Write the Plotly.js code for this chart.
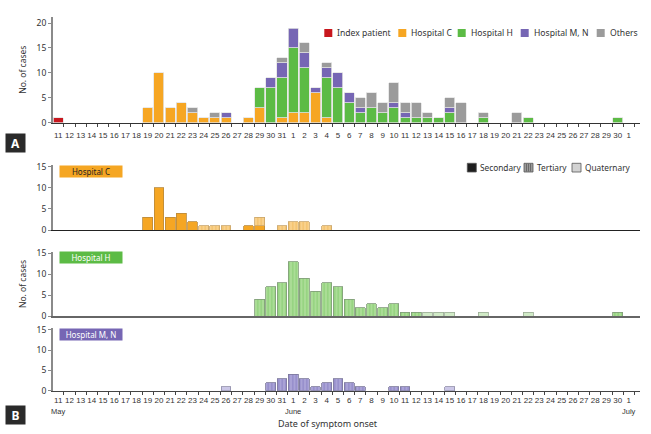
<!DOCTYPE html>
<html><head><meta charset="utf-8">
<script src="https://cdn.plot.ly/plotly-3.0.1.min.js"></script>
<style>html,body{margin:0;padding:0;background:#fff}#chart{width:651px;height:434px}</style>
</head><body><div id="chart"></div>
<script>
// ---- DATA ----
// day labels: May 11-31, June 1-30, July 1
const dayLabels = [
  '11','12','13','14','15','16','17','18','19','20',
  '21','22','23','24','25','26','27','28','29','30','31',
  '1','2','3','4','5','6','7','8','9','10',
  '11','12','13','14','15','16','17','18','19','20',
  '21','22','23','24','25','26','27','28','29','30',
  '1'];
const monthLabels = ['May','June','July'];
const monthStartIndex = [0, 21, 51];

// Panel A (stacked, all cases)
const topIndex = [
  1,0,0,0,0,0,0,0,0,0,  0,0,0,0,0,0,0,0,0,0,0,
  0,0,0,0,0,0,0,0,0,0,  0,0,0,0,0,0,0,0,0,0,  0,0,0,0,0,0,0,0,0,0,  0];
const topHospC = [
  0,0,0,0,0,0,0,0,3,10, 3,4,2,1,1,1,0,1,3,0,1,
  2,2,6,1,0,0,0,0,0,0,  0,0,0,0,0,0,0,0,0,0,  0,0,0,0,0,0,0,0,0,0,  0];
const topHospH = [
  0,0,0,0,0,0,0,0,0,0,  0,0,0,0,0,0,0,0,4,7,8,
  13,9,0,8,7,4,2,3,2,3, 1,1,1,1,2,0,0,1,0,0,  0,1,0,0,0,0,0,0,0,1,  0];
const topHospMN = [
  0,0,0,0,0,0,0,0,0,0,  0,0,0,0,0,1,0,0,0,2,3,
  4,3,1,2,3,2,1,0,0,1,  1,0,0,0,1,0,0,0,0,0,  0,0,0,0,0,0,0,0,0,0,  0];
const topOthers = [
  0,0,0,0,0,0,0,0,0,0,  0,0,1,0,1,0,0,0,0,0,1,
  0,2,0,1,0,0,2,3,2,4,  2,3,1,0,2,4,0,1,0,0,  2,0,0,0,0,0,0,0,0,0,  0];

// Panel B: Hospital C
const cSecondary = [
  0,0,0,0,0,0,0,0,3,10, 3,4,2,0,0,0,0,1,1,0,0,
  0,0,0,0,0,0,0,0,0,0,  0,0,0,0,0,0,0,0,0,0,  0,0,0,0,0,0,0,0,0,0,  0];
const cTertiary = [
  0,0,0,0,0,0,0,0,0,0,  0,0,0,1,1,1,0,0,2,0,1,
  2,2,0,1,0,0,0,0,0,0,  0,0,0,0,0,0,0,0,0,0,  0,0,0,0,0,0,0,0,0,0,  0];
// Panel B: Hospital H
const hTertiary = [
  0,0,0,0,0,0,0,0,0,0,  0,0,0,0,0,0,0,0,4,7,8,
  13,9,6,8,7,4,2,3,2,3, 1,1,0,0,0,0,0,0,0,0,  0,0,0,0,0,0,0,0,0,1,  0];
const hQuaternary = [
  0,0,0,0,0,0,0,0,0,0,  0,0,0,0,0,0,0,0,0,0,0,
  0,0,0,0,0,0,0,0,0,0,  0,0,1,1,1,0,0,1,0,0,  0,1,0,0,0,0,0,0,0,0,  0];
// Panel B: Hospital M, N
const mnTertiary = [
  0,0,0,0,0,0,0,0,0,0,  0,0,0,0,0,0,0,0,0,2,3,
  4,3,1,2,3,2,1,0,0,1,  1,0,0,0,0,0,0,0,0,0,  0,0,0,0,0,0,0,0,0,0,  0];
const mnQuaternary = [
  0,0,0,0,0,0,0,0,0,0,  0,0,0,0,0,1,0,0,0,0,0,
  0,0,0,0,0,0,0,0,0,0,  0,0,0,0,1,0,0,0,0,0,  0,0,0,0,0,0,0,0,0,0,  0];

const topLegendLabels = ['Index patient','Hospital C','Hospital H','Hospital M, N','Others'];
const genLegendLabels = ['Secondary','Tertiary','Quaternary'];
const panelLabels = ['Hospital C','Hospital H','Hospital M, N'];

// ---- STYLE / LAYOUT ----
const W = 651, H = 434;
const px = v => v / W, py = v => 1 - v / H;
const xs = dayLabels.map((_, i) => i);
const nz = a => a.map(v => v === 0 ? null : v);
const FONT = '"Liberation Sans", Arial, sans-serif';
const FONT2 = '"Noto Sans", Roboto, sans-serif';

const RED = '#C8171E', ORANGE = '#F6A623', GREEN = '#5CBB45', PURPLE = '#7666B4', GRAY = '#9B9B9B';

function bar(vals, xa, ya, color, lineColor, lineW, pattern, width) {
  const t = {type: 'bar', x: xs, y: nz(vals), xaxis: xa, yaxis: ya, width: width,
    marker: {color: color, line: {color: lineColor, width: lineW}},
    showlegend: false, hoverinfo: 'skip'};
  if (pattern) t.marker.pattern = pattern;
  return t;
}
const stripe = (bg, fg) => ({shape: '|', bgcolor: bg, fgcolor: fg, size: 3.5, solidity: 0.3});

const data = [
  bar(topIndex, 'x', 'y', RED, '#e4e4e4', 0.8, null, 0.9),
  bar(topHospC, 'x', 'y', ORANGE, '#e4e4e4', 0.8, null, 0.9),
  bar(topHospH, 'x', 'y', GREEN, '#e4e4e4', 0.8, null, 0.9),
  bar(topHospMN, 'x', 'y', PURPLE, '#e4e4e4', 0.8, null, 0.9),
  bar(topOthers, 'x', 'y', GRAY, '#e4e4e4', 0.8, null, 0.9),
  bar(cSecondary, 'x2', 'y2', '#F5A623', '#b98a3c', 0.8, null, 0.88),
  bar(cTertiary, 'x2', 'y2', '#F9CF85', '#c9a56a', 0.8, stripe('#F9D18C', '#F2BD62'), 0.88),
  bar(hTertiary, 'x3', 'y3', '#A8DC94', '#7f9a78', 0.8, stripe('#ABDD97', '#8ACF74'), 0.88),
  bar(hQuaternary, 'x3', 'y3', '#D0EAC6', '#9aab95', 0.8, null, 0.88),
  bar(mnTertiary, 'x4', 'y4', '#A7A0D5', '#7a779a', 0.8, stripe('#AAA3D7', '#8C84C5'), 0.88),
  bar(mnQuaternary, 'x4', 'y4', '#CBC7E7', '#8f8ca8', 0.8, null, 0.88)
];

const XDOM = [px(53), px(640)];
const XR = [-0.47, 52];
const tickFont = {family: FONT, size: 8, color: '#333'};
const yTickFont = {family: FONT2, size: 8.5, color: '#333'};
function xax(extra) {
  return Object.assign({domain: XDOM, range: XR, showgrid: false, zeroline: false,
    showline: true, ticks: '', fixedrange: true, tickangle: 0}, extra);
}
function yax(dom, rng, extra) {
  return Object.assign({domain: dom, range: rng, showgrid: false, zeroline: false,
    showline: true, linecolor: '#8a8a8a', linewidth: 2, ticks: 'outside', ticklen: 3,
    tickcolor: '#8a8a8a', tickwidth: 1, tickfont: yTickFont, tickmode: 'array', fixedrange: true}, extra);
}
const dayTicks = (so) => ({tickmode: 'array', tickvals: xs, ticktext: dayLabels, tickfont: tickFont, tickangle: 0,
  ticklabelstandoff: so,
  minor: {tickmode: 'linear', tick0: 0.5, dtick: 1, ticks: 'outside', ticklen: 3, tickcolor: '#444', tickwidth: 1, showgrid: false}});

const layout = {
  width: W, height: H, margin: {l: 0, r: 0, t: 0, b: 0},
  paper_bgcolor: '#fff', plot_bgcolor: 'rgba(0,0,0,0)',
  barmode: 'stack', showlegend: false, font: {family: FONT, color: '#333'},
  xaxis: xax(Object.assign({anchor: 'y', linecolor: '#333', linewidth: 1.3}, dayTicks(4))),
  xaxis2: xax({anchor: 'y2', matches: 'x', linecolor: '#222', linewidth: 1.4, showticklabels: false}),
  xaxis3: xax({anchor: 'y3', matches: 'x', linecolor: '#666', linewidth: 1.4, showticklabels: false}),
  xaxis4: xax(Object.assign({anchor: 'y4', matches: 'x', linecolor: '#444', linewidth: 1.3}, dayTicks(1))),
  yaxis: yax([py(122.7), py(16.7)], [0, 21.27], {anchor: 'x', tickvals: [0,5,10,15,20],
    title: {text: 'No. of cases', font: {family: FONT2, size: 8.5, color: '#333'}, standoff: 9}}),
  yaxis2: yax([py(230), py(165)], [0, 15.4], {anchor: 'x2', tickvals: [0,5,10,15]}),
  yaxis3: yax([py(316.3), py(251.6)], [0, 15.4], {anchor: 'x3', tickvals: [0,5,10,15],
    title: {text: 'No. of cases', font: {family: FONT2, size: 8.5, color: '#333'}, standoff: 9}}),
  yaxis4: yax([py(390.7), py(328.3)], [0, 15.4], {anchor: 'x4', tickvals: [0,5,10,15]}),
  shapes: [], annotations: []
};

// Top legend (custom)
const topLegColors = [RED, ORANGE, GREEN, PURPLE, GRAY];
const topLegX = [324.3, 398.3, 457.7, 520.7, 596.7];
topLegendLabels.forEach((lab, i) => {
  layout.shapes.push({type: 'rect', xref: 'paper', yref: 'paper', x0: px(topLegX[i]), x1: px(topLegX[i] + 8),
    y0: py(37), y1: py(29), fillcolor: topLegColors[i], line: {width: 0}});
  layout.annotations.push({xref: 'paper', yref: 'paper', x: px(topLegX[i] + 11), y: py(33), xanchor: 'left', yanchor: 'middle',
    text: lab, showarrow: false, font: {family: FONT2, size: 8.6, color: '#333'}});
});
// Generation legend (custom)
const genLegX = [467.3, 524, 572];
const genFill = ['#1e1e1e', '#9a9a9a', '#d2d2d2'];
genLegendLabels.forEach((lab, i) => {
  layout.shapes.push({type: 'rect', xref: 'paper', yref: 'paper', x0: px(genLegX[i]), x1: px(genLegX[i] + 9),
    y0: py(172), y1: py(163.3), fillcolor: genFill[i], line: {color: '#555', width: 0.8}});
  layout.annotations.push({xref: 'paper', yref: 'paper', x: px(genLegX[i] + 10.5), y: py(167.5), xanchor: 'left', yanchor: 'middle',
    text: lab, showarrow: false, font: {family: FONT2, size: 8.3, color: '#333'}});
});
[2.5, 4.5, 6.5].forEach(o => layout.shapes.push({type: 'line', xref: 'paper', yref: 'paper',
  x0: px(genLegX[1] + o), x1: px(genLegX[1] + o), y0: py(171.5), y1: py(163.8), line: {color: '#6a6a6a', width: 1}}));

// Panel label boxes
const panelBox = [[171.5, '#F5A623', '#222'], [257, '#5CBB45', '#fff'], [334.2, '#7666B4', '#fff']];
panelLabels.forEach((lab, i) => {
  layout.annotations.push({xref: 'paper', yref: 'paper', x: px(91), y: py(panelBox[i][0]), xanchor: 'center', yanchor: 'middle',
    text: lab, showarrow: false, bgcolor: panelBox[i][1], width: 62, height: 11, borderpad: 0,
    font: {family: FONT2, size: 8, color: panelBox[i][2]}});
});
// A / B letters
[['A', 142.5], ['B', 414.5]].forEach(([t, y]) => layout.annotations.push({xref: 'paper', yref: 'paper',
  x: px(15), y: py(y), xanchor: 'center', yanchor: 'middle', text: '<b>' + t + '</b>', showarrow: false,
  bgcolor: '#2a2a2a', width: 19, height: 18, borderpad: 0, font: {family: FONT2, size: 12, color: '#fff'}}));
// Month labels
monthLabels.forEach((m, i) => layout.annotations.push({xref: 'x4', yref: 'paper', x: monthStartIndex[i], y: py(411.5),
  xanchor: 'center', yanchor: 'middle', text: m, showarrow: false, font: {family: FONT, size: 7.5, color: '#333'}}));
// X title
layout.annotations.push({xref: 'paper', yref: 'paper', x: px(328), y: py(423), xanchor: 'center', yanchor: 'middle',
  text: 'Date of symptom onset', showarrow: false, font: {family: FONT2, size: 9, color: '#333'}});

Plotly.newPlot('chart', data, layout, {staticPlot: true, displayModeBar: false});
</script>
</body></html>
